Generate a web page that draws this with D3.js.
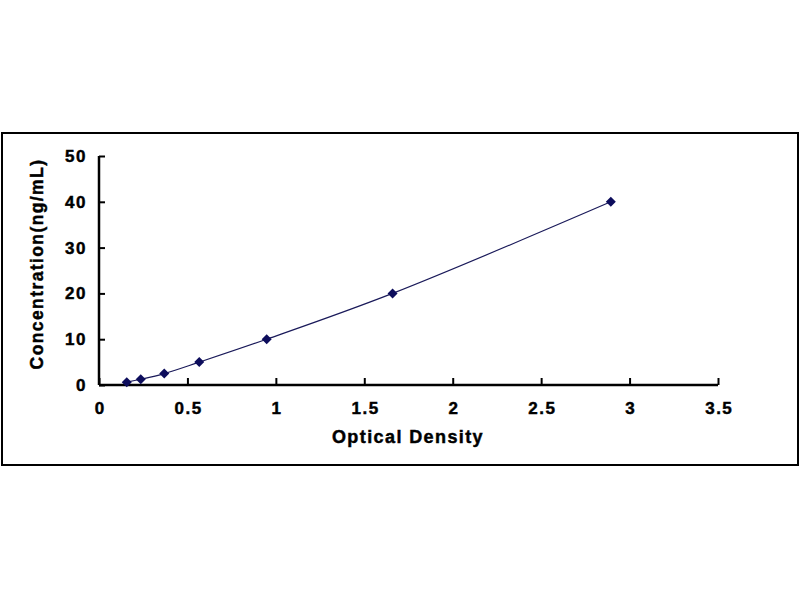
<!DOCTYPE html>
<html>
<head>
<meta charset="utf-8">
<style>
  body { margin: 0; background: #fff; }
  text { font-family: "Liberation Sans", Arial, sans-serif; font-weight: bold; fill: #000; stroke: #000; stroke-width: 0.45px; }
</style>
</head>
<body>
<svg width="800" height="600"></svg>
<script src="https://d3js.org/d3.v7.min.js"></script>
<script>

// Standard curve readings (OD vs concentration)
var opticalDensity = [0.157, 0.236, 0.369, 0.567, 0.948, 1.660, 2.894];
var concentration = [0.625, 1.25, 2.5, 5, 10, 20, 40];
var xTicks = [0, 0.5, 1, 1.5, 2, 2.5, 3, 3.5];
var yTicks = [0, 10, 20, 30, 40, 50];

var svg = d3.select("svg"),
    margin = {top: 156, right: 82, bottom: 215, left: 99},
    width = +svg.attr("width") - margin.left - margin.right,
    height = +svg.attr("height") - margin.top - margin.bottom;

// outer frame
svg.append("rect")
    .attr("x", 2).attr("y", 133)
    .attr("width", 796).attr("height", 332)
    .attr("fill", "none")
    .attr("stroke", "#000")
    .attr("stroke-width", 2);

var g = svg.append("g").attr("transform", "translate(" + margin.left + "," + margin.top + ")");

var x = d3.scaleLinear().domain([0, 3.5]).range([0, width]);
var y = d3.scaleLinear().domain([0, 50]).range([height, 0]);

var data = opticalDensity.map(function(d, i) { return {od: d, conc: concentration[i]}; });

// x axis, ticks pointing inward
var xAxis = g.append("g")
    .attr("transform", "translate(0," + height + ")")
    .call(d3.axisBottom(x).tickValues(xTicks).tickSize(-7).tickPadding(17).tickFormat(d3.format("")));
xAxis.select(".domain").attr("stroke-width", 2.5).attr("d", "M0,0H" + width);
xAxis.selectAll(".tick line").attr("stroke-width", 2);
xAxis.selectAll("text").style("font-size", "17px").style("letter-spacing", "1.5px").attr("dx", "0.75px");

// y axis
var yAxis = g.append("g")
    .call(d3.axisLeft(y).tickValues(yTicks).tickSize(-6).tickPadding(12));
yAxis.select(".domain").attr("stroke-width", 2.5).attr("d", "M0," + height + "V0");
yAxis.selectAll(".tick line").attr("stroke-width", 2);
yAxis.selectAll("text").style("font-size", "17px").style("letter-spacing", "1.5px");

// axis titles
svg.append("text")
    .attr("x", 408).attr("y", 443)
    .attr("text-anchor", "middle")
    .style("font-size", "18px")
    .style("letter-spacing", "1.4px")
    .text("Optical Density");

svg.append("text")
    .attr("transform", "translate(43,264) rotate(-90)")
    .attr("text-anchor", "middle")
    .style("font-size", "17.5px")
    .style("letter-spacing", "1.4px")
    .text("Concentration(ng/mL)");

// smoothed fit line
var line = d3.line()
    .x(function(d) { return x(d.od); })
    .y(function(d) { return y(d.conc); })
    .curve(d3.curveCatmullRom);

g.append("path")
    .datum(data)
    .attr("fill", "none")
    .attr("stroke", "#1a1a5a")
    .attr("stroke-width", 1.2)
    .attr("d", line);

// diamond markers
g.selectAll(".pt")
    .data(data)
  .enter().append("path")
    .attr("class", "pt")
    .attr("transform", function(d) { return "translate(" + x(d.od) + "," + y(d.conc) + ")"; })
    .attr("d", "M0,-5L5,0L0,5L-5,0Z")
    .attr("fill", "#0d0d5c");

</script>
</body>
</html>
